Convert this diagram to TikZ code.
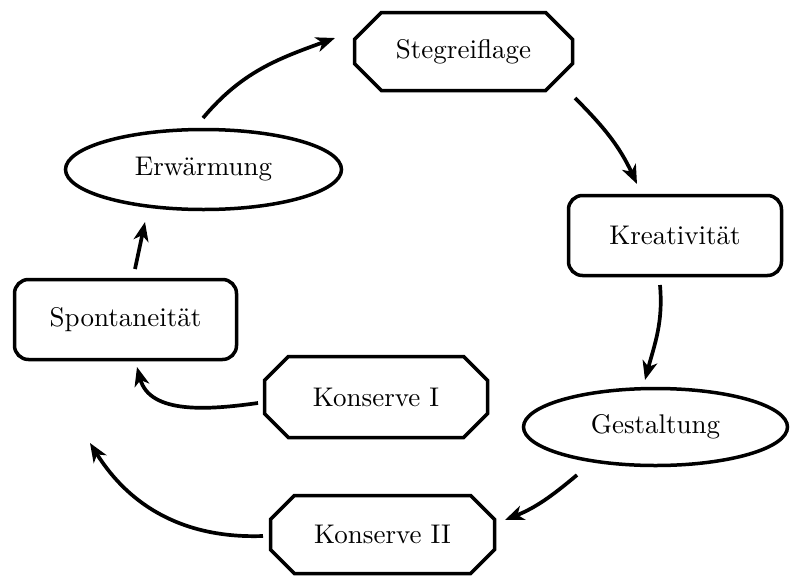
\documentclass[tikz,border=0pt]{standalone}
\usepackage{fontspec}
\setmainfont{Latin Modern Roman}[OpticalSize=10]
\usetikzlibrary{shapes.geometric,shapes.misc,arrows.meta}
\begin{document}
\begin{tikzpicture}[x=1pt,y=-1pt,
  every node/.style={font=\fontsize{27}{32}\selectfont, line width=3.5pt, draw, inner sep=0pt},
  octbox/.style={chamfered rectangle, chamfered rectangle xsep=14.5pt, chamfered rectangle ysep=14.5pt},
  roundbox/.style={rectangle, rounded corners=14pt},
  ovalbox/.style={ellipse},
  flow/.style={line width=3.7pt, -{Stealth[length=19pt,width=15pt,inset=5.5pt]}}
]
\useasboundingbox (0,0) rectangle (790,576);

% nodes of the cycle
\node[octbox, minimum width=218pt, minimum height=78pt] (steg) at (463.5,51.5) {Stegreiflage};
\node[roundbox, minimum width=213pt, minimum height=80pt] (krea) at (675,235.5) {Kreativität};
\node[ovalbox, minimum width=264pt, minimum height=77pt] (gest) at (655.5,427) {Gestaltung};
\node[octbox, minimum width=224pt, minimum height=78pt] (kon2) at (382.5,534.5) {Konserve II};
\node[octbox, minimum width=223pt, minimum height=81pt] (kon1) at (376,397) {Konserve I};
\node[roundbox, minimum width=222pt, minimum height=80pt] (spon) at (125.5,319.5) {Spontaneität};
\node[ovalbox, minimum width=276pt, minimum height=80pt] (erw) at (203.5,169.5) {Erwärmung};

\coordinate (free) at (90,443);

% connectors
\draw[flow] ([shift={(-0.5,-51.5)}]erw.center) to[out=50,in=200] ([shift={(-128.5,-13.5)}]steg.center);
\draw[flow] ([shift={(111.5,46.5)}]steg.center) to[out=-45,in=115] ([shift={(-38,-51.5)}]krea.center);
\draw[flow] ([shift={(-15,49.5)}]krea.center) to[out=-85,in=75] ([shift={(-10.5,-47)}]gest.center);
\draw[flow] ([shift={(-78.5,48)}]gest.center) to[out=-140,in=22] ([shift={(122.5,-14.5)}]kon2.center);
\draw[flow] ([shift={(-119.5,1.5)}]kon2.center) to[out=182,in=-58] (free);
\draw[flow] ([shift={(-118,6)}]kon1.center) to[out=188,in=-75] ([shift={(11.5,47.5)}]spon.center);
\draw[flow] ([shift={(9.5,-50.5)}]spon.center) -- ([shift={(-58.5,52.5)}]erw.center);
\end{tikzpicture}
\end{document}
